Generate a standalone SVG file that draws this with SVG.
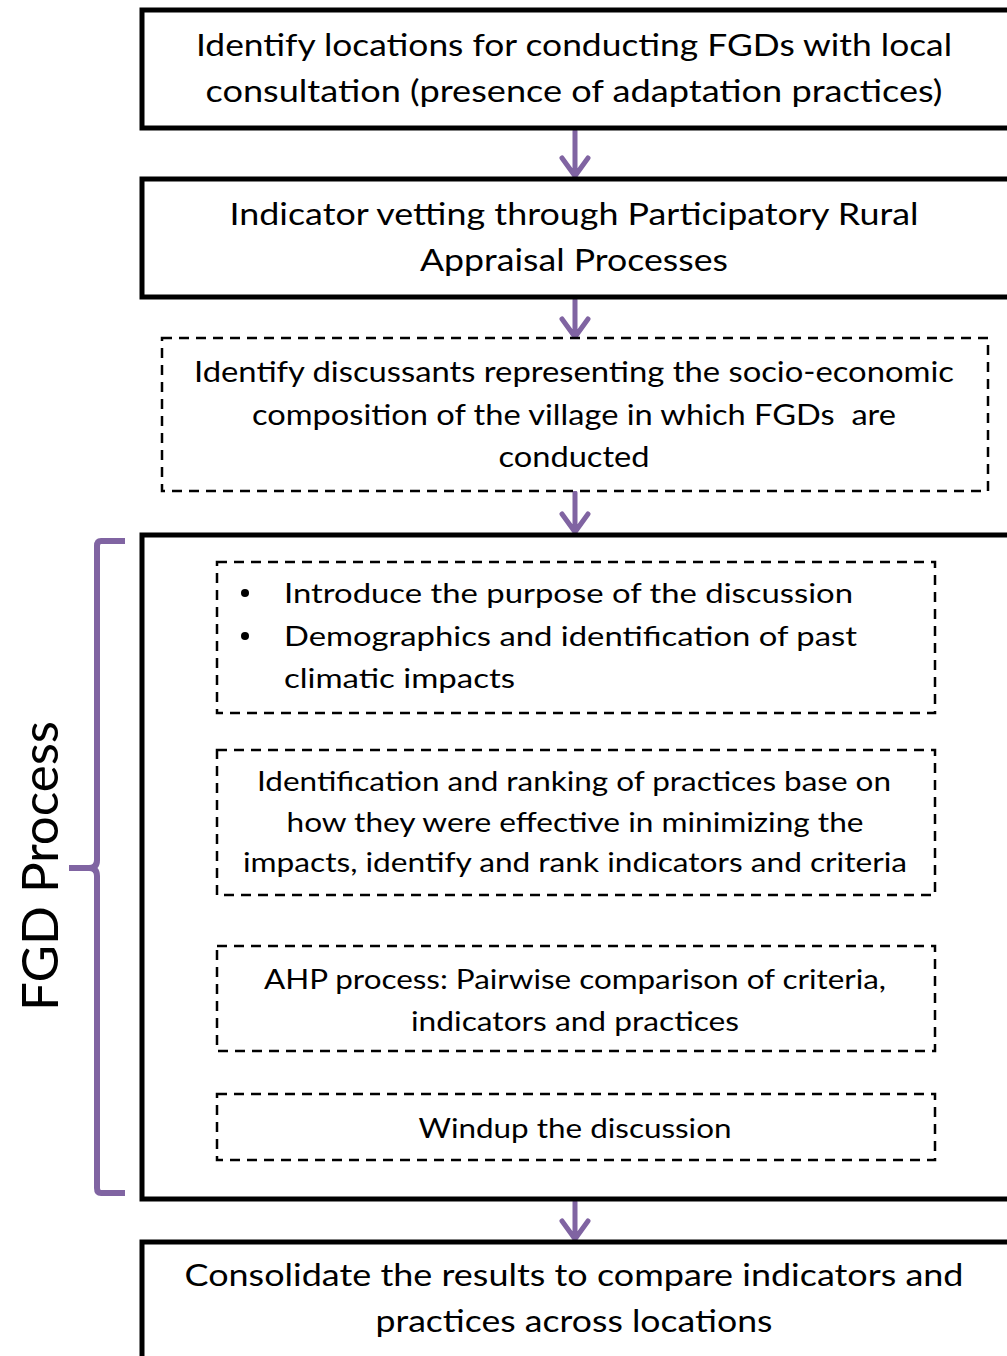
<svg xmlns="http://www.w3.org/2000/svg" width="1007" height="1356" viewBox="0 0 1007 1356">
  <style>
    .solid { fill: #ffffff; stroke: #000000; stroke-width: 5; }
    .dash { fill: #ffffff; stroke: #000000; stroke-width: 2.5; stroke-dasharray: 10 7; }
    .t { font-family: Lato, "Liberation Sans", sans-serif; fill: #000000; text-anchor: middle; }
    .tl { font-family: Lato, "Liberation Sans", sans-serif; fill: #000000; text-anchor: start; }
    .big { font-size: 30px; }
    .mid { font-size: 28px; }
    .sm { font-size: 27px; }
    .arr { fill: none; stroke: #8064A2; stroke-width: 5; stroke-linecap: round; stroke-linejoin: round; }
  </style>

  <!-- connectors -->
  <g id="connectors">
    <g class="arr">
      <path d="M575 131 V176 M562 158 L575 176 L588 158"/>
      <path d="M575 300 V337 M562 319 L575 337 L588 319"/>
      <path d="M575 493 V532 M562 514 L575 532 L588 514"/>
      <path d="M575 714 V749 M562 731 L575 749 L588 731"/>
      <path d="M573 896 V945 M560 927 L573 945 L586 927"/>
      <path d="M573 1052 V1093 M560 1075 L573 1093 L586 1075"/>
      <path d="M575 1202 V1239 M562 1221 L575 1239 L588 1221"/>
    </g>
    <!-- brace grouping the FGD steps -->
    <path d="M125 541 H101 Q97 541 97 546 V860 Q97 868 89 868 H69 M89 868 Q97 868 97 876 V1188 Q97 1193 101 1193 H125" fill="none" stroke="#8064A2" stroke-width="6" stroke-linejoin="round"/>
  </g>

  <g id="step1">
    <rect class="solid" x="142" y="10" width="870" height="118"/>
    <text class="t big" x="574" y="56" textLength="756" lengthAdjust="spacingAndGlyphs">Identify locations for conducting FGDs with local</text>
    <text class="t big" x="574" y="102" textLength="737" lengthAdjust="spacingAndGlyphs">consultation (presence of adaptation practices)</text>
  </g>

  <g id="step2">
    <rect class="solid" x="142" y="179" width="870" height="118"/>
    <text class="t big" x="574" y="225" textLength="689" lengthAdjust="spacingAndGlyphs">Indicator vetting through Participatory Rural</text>
    <text class="t big" x="574" y="271" textLength="308" lengthAdjust="spacingAndGlyphs">Appraisal Processes</text>
  </g>

  <g id="step3">
    <rect class="dash" x="162" y="338" width="826" height="153"/>
    <text class="t mid" x="574" y="382" textLength="760" lengthAdjust="spacingAndGlyphs">Identify discussants representing the socio-economic</text>
    <text class="t mid" x="574" y="425" textLength="644" lengthAdjust="spacingAndGlyphs" xml:space="preserve">composition of the village in which FGDs  are</text>
    <text class="t mid" x="574" y="467" textLength="151" lengthAdjust="spacingAndGlyphs">conducted</text>
  </g>

  <g id="fgd-process">
    <rect class="solid" x="142" y="535" width="870" height="664"/>
    <text class="t" font-size="50" transform="translate(58 866) rotate(-90)" textLength="290" lengthAdjust="spacingAndGlyphs">FGD Process</text>
  </g>

  <g id="fgd-intro">
    <rect class="dash" x="217" y="562" width="718" height="151"/>
    <circle cx="245" cy="593" r="4" fill="#000"/>
    <circle cx="245" cy="636" r="4" fill="#000"/>
    <text class="tl sm" x="284" y="603" textLength="569" lengthAdjust="spacingAndGlyphs">Introduce the purpose of the discussion</text>
    <text class="tl sm" x="284" y="646" textLength="573" lengthAdjust="spacingAndGlyphs">Demographics and identification of past</text>
    <text class="tl sm" x="284" y="688" textLength="231" lengthAdjust="spacingAndGlyphs">climatic impacts</text>
  </g>

  <g id="fgd-ranking">
    <rect class="dash" x="217" y="750" width="718" height="145"/>
    <text class="t sm" x="574" y="791" textLength="634" lengthAdjust="spacingAndGlyphs">Identification and ranking of practices base on</text>
    <text class="t sm" x="575" y="832" textLength="577" lengthAdjust="spacingAndGlyphs">how they were effective in minimizing the</text>
    <text class="t sm" x="575" y="872" textLength="664" lengthAdjust="spacingAndGlyphs">impacts, identify and rank indicators and criteria</text>
  </g>

  <g id="fgd-ahp">
    <rect class="dash" x="217" y="946" width="718" height="105"/>
    <text class="t sm" x="575" y="989" textLength="622" lengthAdjust="spacingAndGlyphs">AHP process: Pairwise comparison of criteria,</text>
    <text class="t sm" x="575" y="1031" textLength="328" lengthAdjust="spacingAndGlyphs">indicators and practices</text>
  </g>

  <g id="fgd-windup">
    <rect class="dash" x="217" y="1094" width="718" height="66"/>
    <text class="t sm" x="575" y="1138" textLength="313" lengthAdjust="spacingAndGlyphs">Windup the discussion</text>
  </g>

  <g id="step-final">
    <rect class="solid" x="142" y="1242" width="870" height="130"/>
    <text class="t big" x="574" y="1286" textLength="779" lengthAdjust="spacingAndGlyphs">Consolidate the results to compare indicators and</text>
    <text class="t big" x="574" y="1332" textLength="397" lengthAdjust="spacingAndGlyphs">practices across locations</text>
  </g>
</svg>
